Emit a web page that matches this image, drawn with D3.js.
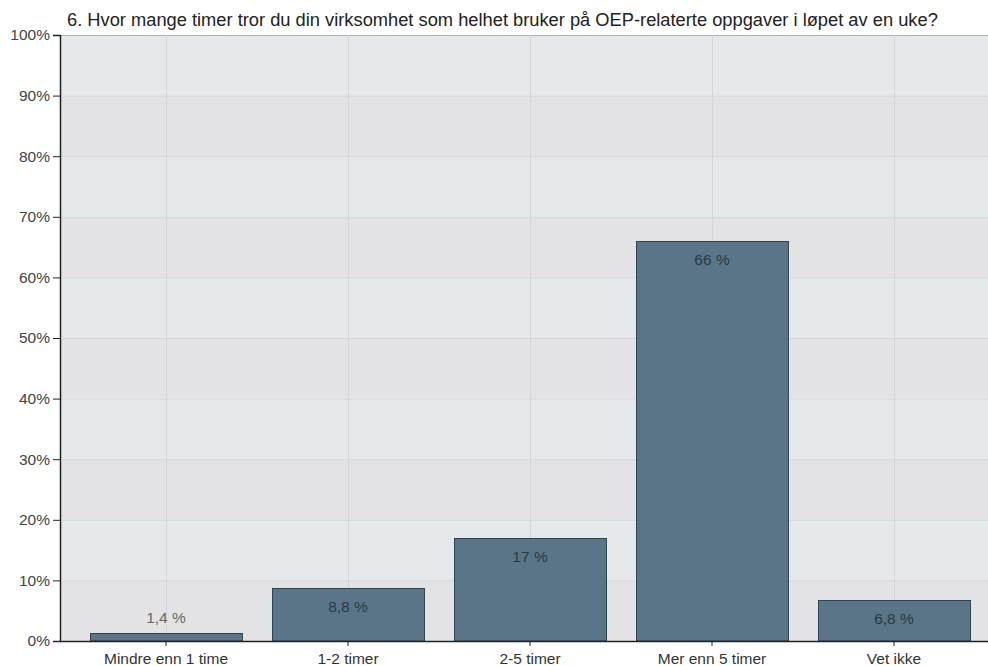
<!DOCTYPE html>
<html><head><meta charset="utf-8">
<script src="https://cdn.jsdelivr.net/npm/d3@7"></script>
<style>body{margin:0;background:#fff;font-family:"Liberation Sans",Arial,sans-serif;}</style>
</head><body>
<svg id="c" width="988" height="666"></svg>
<script>
const title = "6. Hvor mange timer tror du din virksomhet som helhet bruker på OEP-relaterte oppgaver i løpet av en uke?";
const categories = ["Mindre enn 1 time", "1-2 timer", "2-5 timer", "Mer enn 5 timer", "Vet ikke"];
const values = [1.4, 8.8, 17, 66, 6.8];
const valueLabels = ["1,4 %", "8,8 %", "17 %", "66 %", "6,8 %"];
const yTicks = [0, 10, 20, 30, 40, 50, 60, 70, 80, 90, 100];

const svg = d3.select("#c");
const L = 60, R = 988, T = 35, B = 641;
const FS = 15.5;
const y = d3.scaleLinear().domain([0, 100]).range([B, T]);
const x = d3.scaleBand().domain(categories).range([75, 985]).paddingInner(0.165).paddingOuter(0.0825);

// bands
const bandsG = svg.append("g");
yTicks.slice(0, -1).forEach((t, i) => {
  bandsG.append("rect").attr("x", L).attr("width", R - L)
    .attr("y", y(t + 10)).attr("height", y(t) - y(t + 10))
    .attr("fill", i % 2 === 0 ? "#e3e3e5" : "#e6e9ec");
});
// grid
svg.append("g").selectAll("line").data(yTicks.slice(1)).join("line")
  .attr("x1", L).attr("x2", R).attr("y1", d => y(d) + 0.5).attr("y2", d => y(d) + 0.5)
  .attr("stroke", d => d === 100 ? "#b0b0b0" : "#d6d6d8").attr("stroke-width", 1);
svg.append("g").selectAll("line").data(categories).join("line")
  .attr("x1", d => Math.round(x(d) + x.bandwidth() / 2) + 0.5).attr("x2", d => Math.round(x(d) + x.bandwidth() / 2) + 0.5)
  .attr("y1", T).attr("y2", B).attr("stroke", "#d6d6d8");

// bars
svg.append("g").selectAll("rect").data(values).join("rect")
  .attr("x", (d, i) => Math.round(x(categories[i])) + 0.5)
  .attr("width", x.bandwidth())
  .attr("y", d => Math.round(y(d)) + 0.5)
  .attr("height", d => B - Math.round(y(d)) - 0.5)
  .attr("fill", "#5a7587").attr("stroke", "#2f4450").attr("stroke-width", 1);

// value labels
svg.append("g").selectAll("text").data(values).join("text")
  .attr("x", (d, i) => x(categories[i]) + x.bandwidth() / 2)
  .attr("y", d => (B - y(d)) < 25 ? y(d) - 10 : y(d) + 24)
  .attr("text-anchor", "middle").attr("font-size", FS)
  .attr("fill", d => (B - y(d)) < 25 ? "#666" : "#2b3a44")
  .text((d, i) => valueLabels[i]);

// axes
const yAxis = svg.append("g").attr("transform", `translate(${L},0)`)
  .call(d3.axisLeft(y).tickValues(yTicks).tickFormat(d => d + "%").tickSize(7).tickPadding(3));
yAxis.select(".domain").attr("stroke", "#222").attr("stroke-width", 1.5);
yAxis.selectAll(".tick line").attr("stroke", "#222");
yAxis.selectAll("text").attr("font-size", FS).attr("fill", "#444").attr("font-family", "Liberation Sans, Arial, sans-serif");

const xAxis = svg.append("g").attr("transform", `translate(0,${B})`)
  .call(d3.axisBottom(x).tickSize(5).tickPadding(7).tickSizeOuter(0));
xAxis.select(".domain").attr("d", `M${L},0.5H${R}`).attr("stroke", "#222").attr("stroke-width", 1.5);
xAxis.selectAll(".tick line").attr("stroke", "#222");
xAxis.selectAll("text").attr("font-size", FS).attr("fill", "#333").attr("font-family", "Liberation Sans, Arial, sans-serif");

svg.append("text").attr("x", 67).attr("y", 26).attr("font-size", 18.3).attr("fill", "#222").text(title);
</script>
</body></html>
